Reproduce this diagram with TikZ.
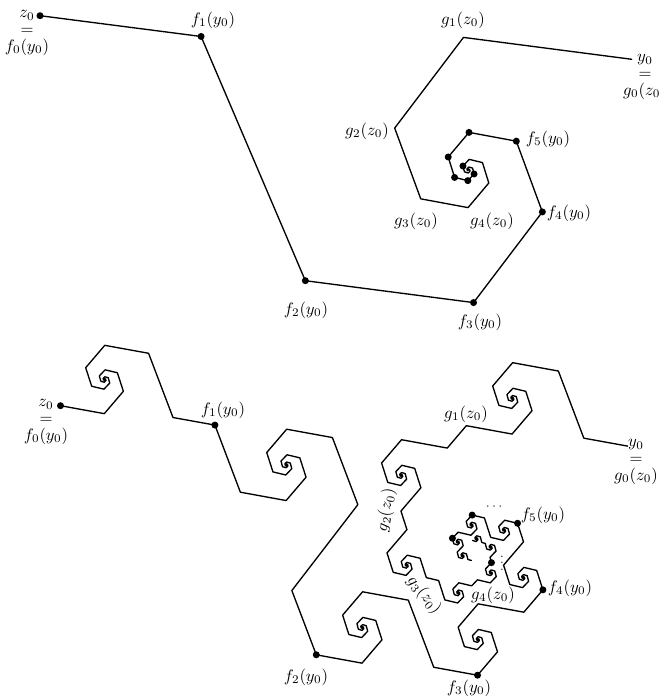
\documentclass[tikz,border=0pt]{standalone}
\usetikzlibrary{positioning}

\tikzset{
  curve/.style={line width=0.8pt, line join=round, line cap=round},
  dot/.style={circle, fill, inner sep=0pt, minimum size=4.2pt},
  lbl/.style={inner sep=0pt},
  stack/.style={align=center, inner sep=0pt},
}

% spiral polygon in a normalised frame: z_0=(0,0), y_0=(1,0), y downwards
\def\spcx{0.7384}\def\spcy{0.1994} % centre
\def\spr{0.657}                    % ratio per step
\def\spa{-59}                      % turn per step
\def\spn{14}                       % steps on each arm

\newcount\npt
\def\addpt#1#2{%
  \expandafter\xdef\csname px\the\npt\endcsname{#1}%
  \expandafter\xdef\csname py\the\npt\endcsname{#2}%
  \global\advance\npt by 1\relax}
\def\PX#1{\csname px#1\endcsname}
\def\PY#1{\csname py#1\endcsname}

\pgfmathsetmacro\spvm{veclen(1-\spcx,-\spcy)}
\pgfmathsetmacro\spvp{atan2(-\spcy,1-\spcx)}
\npt=0
\addpt{0}{0}
\foreach \k in {1,...,\spn}{%
  \pgfmathsetmacro\sprad{\spvm*exp((\k-2)*ln(\spr))}%
  \pgfmathsetmacro\spang{\spvp+(\k-2)*(\spa)}%
  \pgfmathsetmacro\spqx{\spcx-\sprad*cos(\spang)}%
  \pgfmathsetmacro\spqy{\spcy-\sprad*sin(\spang)}%
  \addpt{\spqx}{\spqy}}
\addpt{\spcx}{\spcy}
\foreach \k in {\spn,...,1}{%
  \pgfmathsetmacro\sprad{\spvm*exp(\k*ln(\spr))}%
  \pgfmathsetmacro\spang{\spvp+\k*(\spa)}%
  \pgfmathsetmacro\spqx{\spcx+\sprad*cos(\spang)}%
  \pgfmathsetmacro\spqy{\spcy+\sprad*sin(\spang)}%
  \addpt{\spqx}{\spqy}}
\addpt{1}{0}

% copy of the whole polygon on side #1 (ends swapped), second step frame
\newcommand\addcopy[1]{%
  \pgfmathtruncatemacro\jn{#1+1}%
  \edef\sbx{\PX\jn}\edef\sby{\PY\jn}%
  \pgfmathsetmacro\sdx{(\PX{#1})-(\sbx)}%
  \pgfmathsetmacro\sdy{(\PY{#1})-(\sby)}%
  \foreach \i in {29,...,0}{%
    \pgfmathsetmacro\qx{\sbx+(\PX\i)*(\sdx)-(\PY\i)*(\sdy)}%
    \pgfmathsetmacro\qy{\sby+(\PX\i)*(\sdy)+(\PY\i)*(\sdx)}%
    \pgfmathsetmacro\ptx{60.5+(\qx)*567.1-(\qy)*36.7}%
    \pgfmathsetmacro\pty{405.7+(\qx)*40.4+(\qy)*576.3}%
    \xdef\armpath{\armpath -- (\ptx,\pty)}}}

\begin{document}
\begin{tikzpicture}[x=0.6pt, y=-0.6pt]
\useasboundingbox (0,0) rectangle (659,697);

% first step
\gdef\armpath{}
\foreach \i in {0,...,30}{
  \pgfmathsetmacro\ptx{40+(\PX\i)*591.7-(\PY\i)*42.12}
  \pgfmathsetmacro\pty{15.7+(\PX\i)*43.59+(\PY\i)*612.4}
  \coordinate (t\i) at (\ptx,\pty);
  \xdef\armpath{\armpath -- (t\i)}
}
\edef\drawarm{\noexpand\draw[curve] (t0) \armpath;}\drawarm

% second step: every side becomes a copy of the first step
\foreach \i in {0,...,30}{
  \pgfmathsetmacro\ptx{60.5+(\PX\i)*567.1-(\PY\i)*36.7}
  \pgfmathsetmacro\pty{405.7+(\PX\i)*40.4+(\PY\i)*576.3}
  \coordinate (b\i) at (\ptx,\pty);
}
\gdef\armpath{}
\foreach \j in {0,...,8} {\addcopy{\j}}
\edef\drawarm{\noexpand\draw[curve] (b0) \armpath;}\drawarm
\gdef\armpath{}
\foreach \j in {23,...,29} {\addcopy{\j}}
\edef\drawarm{\noexpand\draw[curve] (b23) \armpath;}\drawarm

% points
\foreach \i in {0,...,10,22,...,30} \node[dot] (dt\i) at (t\i) {};
\foreach \i in {0,...,7,25,...,30} \node[dot] (db\i) at (b\i) {};

% labels, first step
\node[stack] (tz) at (27,33) {$z_0$\\[-2pt]$=$\\[-2pt]$f_0(y_0)$};
\node[stack] (ty) at (645,77) {$y_0$\\[-2pt]$=$\\[-2pt]$g_0(z_0)$};
\node[lbl] (tf1) at (213,20) {$f_1(y_0)$};
\node[lbl] (tf2) at (306,310) {$f_2(y_0)$};
\node[lbl] (tf3) at (480,322) {$f_3(y_0)$};
\node[lbl] (tf4) at (569,213) {$f_4(y_0)$};
\node[lbl] (tf5) at (548,139) {$f_5(y_0)$};
\node[lbl] (tg1) at (463,20) {$g_1(z_0)$};
\node[lbl] (tg2) at (367,131) {$g_2(z_0)$};
\node[lbl] (tg3) at (416,221) {$g_3(z_0)$};
\node[lbl] (tg4) at (492,221) {$g_4(z_0)$};

% labels, second step
\node[stack] (bz) at (46,422) {$z_0$\\[-2pt]$=$\\[-2pt]$f_0(y_0)$};
\node[stack] (by) at (636,462) {$y_0$\\[-2pt]$=$\\[-2pt]$g_0(z_0)$};
\node[lbl] (bf1) at (223,410) {$f_1(y_0)$};
\node[lbl] (bf2) at (306,677) {$f_2(y_0)$};
\node[lbl] (bf3) at (469,688) {$f_3(y_0)$};
\node[lbl] (bf4) at (570,588) {$f_4(y_0)$};
\node[lbl] (bf5) at (543,515) {$f_5(y_0)$};
\node[lbl] (bg1) at (466,414) {$g_1(z_0)$};
\node[lbl, rotate=80] (bg2) at (386,510) {$g_2(z_0)$};
\node[lbl, rotate=-50] (bg3) at (424,595) {$g_3(z_0)$};
\node[lbl] (bg4) at (493,595) {$g_4(z_0)$};
\node[lbl, font=\scriptsize] (bh) at (494,507) {$\cdots$};
\node[lbl, font=\scriptsize] (bv) at (502,558) {$\vdots$};
\end{tikzpicture}
\end{document}
